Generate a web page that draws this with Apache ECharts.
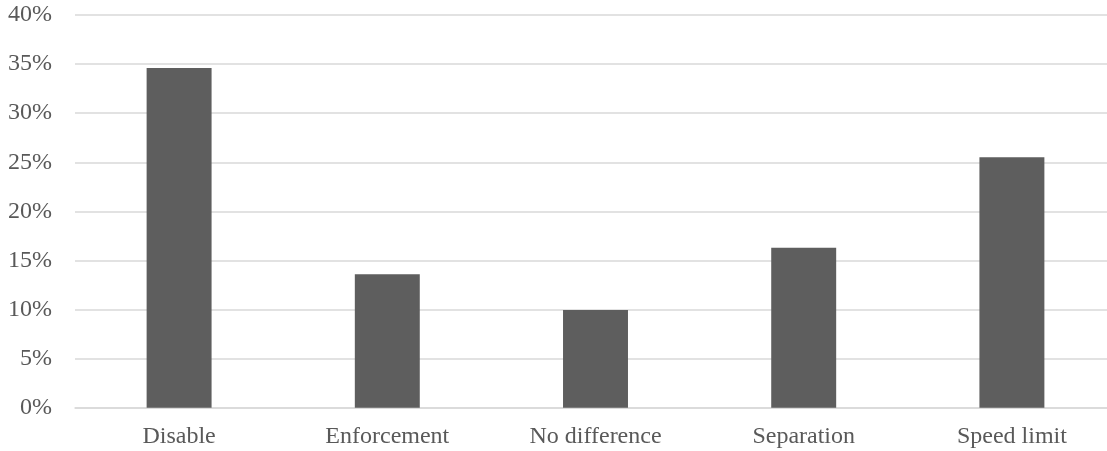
<!DOCTYPE html>
<html>
<head>
<meta charset="utf-8">
<script src="https://cdn.jsdelivr.net/npm/echarts@6/dist/echarts.min.js"></script>
<style>
  html, body { margin: 0; padding: 0; background: #fff; overflow: hidden; }
  #chart { width: 1107px; height: 451px; }
</style>
</head>
<body>
<div id="chart"></div>
<script>
// Share of responses per category (percent)
const categories = ['Disable', 'Enforcement', 'No difference', 'Separation', 'Speed limit'];
const shares = [34.6, 13.6, 9.95, 16.3, 25.5];
const yTicks = { min: 0, max: 40, interval: 5 };

const chart = echarts.init(document.getElementById('chart'));
const font = '"Liberation Serif", "Times New Roman", serif';

chart.setOption({
  animation: false,
  grid: { left: 75, right: -9, top: 15, bottom: 43.3, outerBoundsMode: 'none', containLabel: false },
  xAxis: {
    type: 'category',
    data: categories,
    axisLine: { lineStyle: { color: '#d9d9d9', width: 1.5 } },
    axisTick: { show: false },
    axisLabel: { color: '#595959', fontFamily: font, fontSize: 24, margin: 17 }
  },
  yAxis: {
    type: 'value',
    min: yTicks.min,
    max: yTicks.max,
    interval: yTicks.interval,
    axisLine: { show: false },
    axisTick: { show: false },
    splitLine: { lineStyle: { color: '#d9d9d9', width: 1.5 } },
    axisLabel: {
      color: '#595959', fontFamily: font, fontSize: 24, margin: 23,
      formatter: v => v + '%'
    }
  },
  series: [{
    type: 'bar',
    data: shares,
    barWidth: '31.2%',
    itemStyle: { color: '#5e5e5e' }
  }]
});
</script>
</body>
</html>
